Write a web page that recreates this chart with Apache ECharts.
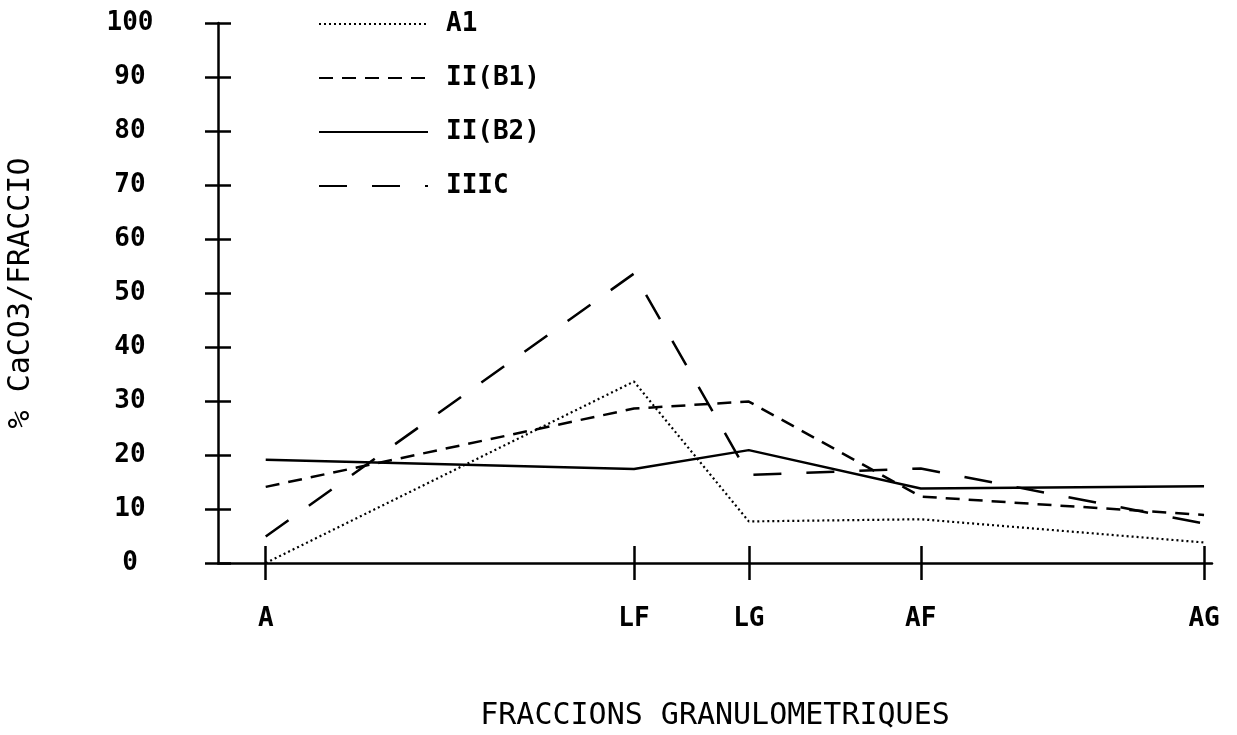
<!DOCTYPE html>
<html>
<head>
<meta charset="utf-8">
<script src="https://cdn.jsdelivr.net/npm/echarts@6/dist/echarts.min.js"></script>
<style>
html, body { margin: 0; background: #fff; }
#chart { width: 1237px; height: 735px; }
</style>
</head>
<body>
<div id="chart"></div>
<script>
// granulometric fractions and where they sit along the x axis (0-100 scale)
var fractions = ['A', 'LF', 'LG', 'AF', 'AG'];
var fracPos = [4.8, 41.85, 53.4, 70.7, 99.2];

// % CaCO3 per fraction, one array per horizon
var seriesNames = ['A1', 'II(B1)', 'II(B2)', 'IIIC'];
var a1   = [0, 33.6, 7.7, 8.1, 3.8];
var iiB1 = [14.1, 28.6, 29.9, 12.3, 8.9];
var iiB2 = [19.1, 17.4, 20.9, 13.8, 14.2];
var iiic = [4.9, 53.6, 16.3, 17.5, 7.3];

var mono = '"DejaVu Sans Mono", "Liberation Mono", monospace';

function pairs(vals) {
  return vals.map(function (v, i) { return [fracPos[i], v]; });
}

function lineSerie(name, vals, dash, w) {
  return {
    name: name,
    type: 'line',
    data: pairs(vals),
    symbol: 'none',
    itemStyle: { color: '#000' },
    lineStyle: { color: '#000', width: w, type: dash }
  };
}

var chart = echarts.init(document.getElementById('chart'));

var option = {
  animation: false,
  backgroundColor: '#fff',
  grid: { left: 218, right: 25, top: 23, bottom: 172, outerBoundsMode: 'none' },
  legend: {
    orient: 'vertical',
    left: 313,
    top: 6,
    itemWidth: 109,
    itemHeight: 20,
    itemGap: 28,
    itemStyle: { opacity: 0 },
    data: seriesNames,
    textStyle: { fontFamily: mono, fontSize: 26, fontWeight: 'bold', lineHeight: 26, color: '#000', padding: [0, 0, 0, 13] }
  },
  xAxis: [
    {
      type: 'value',
      min: 0,
      max: 100,
      position: 'bottom',
      name: 'FRACCIONS GRANULOMETRIQUES',
      nameLocation: 'middle',
      nameGap: 138,
      nameTextStyle: { fontFamily: mono, fontSize: 30, color: '#000' },
      axisLine: { show: true, lineStyle: { color: '#000', width: 2.5 } },
      axisTick: { show: true, customValues: fracPos, length: 17, inside: false, lineStyle: { color: '#000', width: 2.5 } },
      axisLabel: {
        customValues: fracPos,
        margin: 43,
        fontFamily: mono,
        fontSize: 26,
        fontWeight: 'bold',
        color: '#000',
        formatter: function (v) {
          var i = fracPos.indexOf(v);
          return i >= 0 ? fractions[i] : '';
        }
      },
      splitLine: { show: false }
    },
    {
      type: 'value',
      min: 0,
      max: 100,
      position: 'bottom',
      axisLine: { show: false },
      axisTick: { show: true, customValues: fracPos, length: 17, inside: true, lineStyle: { color: '#000', width: 2.5 } },
      axisLabel: { show: false },
      splitLine: { show: false }
    }
  ],
  yAxis: [
    {
      type: 'value',
      min: 0,
      max: 100,
      interval: 10,
      position: 'left',
      name: '% CaCO3/FRACCIO',
      nameLocation: 'middle',
      nameGap: 182,
      nameRotate: 90,
      nameTextStyle: { fontFamily: mono, fontSize: 30, color: '#000' },
      axisLine: { show: true, lineStyle: { color: '#000', width: 2.5 } },
      axisTick: { show: true, length: 13, inside: false, lineStyle: { color: '#000', width: 2.5 } },
      axisLabel: { margin: 88, align: 'center', fontFamily: mono, fontSize: 26, fontWeight: 'bold', color: '#000' },
      splitLine: { show: false }
    },
    {
      type: 'value',
      min: 0,
      max: 100,
      interval: 10,
      position: 'left',
      axisLine: { show: false },
      axisTick: { show: true, length: 13, inside: true, lineStyle: { color: '#000', width: 2.5 } },
      axisLabel: { show: false },
      splitLine: { show: false }
    }
  ],
  series: [
    lineSerie('A1', a1, [2, 3], 2.2),
    lineSerie('II(B1)', iiB1, [14, 9], 2.5),
    lineSerie('II(B2)', iiB2, 'solid', 2.5),
    lineSerie('IIIC', iiic, [28, 25], 2.5)
  ]
};

chart.setOption(option);
</script>
</body>
</html>
